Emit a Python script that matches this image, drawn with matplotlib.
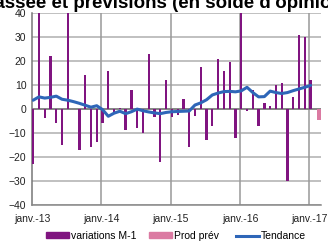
import matplotlib
matplotlib.use("Agg")
import matplotlib.pyplot as plt
from matplotlib.patches import Patch
from matplotlib.lines import Line2D
import numpy as np

plt.rcParams['font.family'] = ['Liberation Sans', 'DejaVu Sans']

title = "Production passée et prévisions (en solde d'opinion)"
title_prefix = "Production pa"

# monthly data, janv.-13 .. janv.-17
variations = [-23, 45, -4, 22, -6, -15, 45, 0, -17, 14, -16, -14,
              -6, 16, -2, 0.5, -9, 8, -8, -10, 23, -3.5, -22, 12,
              -3.5, -2.5, 4.3, -16, -3, 17.5, -13, -7, 21, 16, 19.5, -12,
              45, -1, 7.7, -7, 2.6, 1.3, 9.8, 10.6, -30, 4.8, 30.7, 29.9,
              12]
tendance = [3.6, 5.0, 4.5, 4.8, 5.3, 4.0, 3.6, 3.0, 2.3, 1.5, 0.7, 1.3,
            -0.3, -3.1, -1.8, -1.0, -2.0, -1.2, -0.1, -0.8, -1.3, -1.7, -2.0, -1.5,
            -1.2, -1.1, -1.0, -0.9, 1.6, 2.5, 3.8, 5.8, 6.6, 7.2, 7.3, 7.1,
            7.5, 9.0, 6.8, 5.0, 5.1, 7.4, 6.8, 6.4, 6.8, 7.6, 8.3, 9.0,
            9.8]
prev_month = 49
prev_value = -4.6

tick_months = [0, 12, 24, 36, 48]
tick_labels = ["janv.-13", "janv.-14", "janv.-15", "janv.-16", "janv.-17"]
y_ticks = [-40, -30, -20, -10, 0, 10, 20, 30, 40]

purple = "#801480"
pink = "#DB7AA2"
blue = "#2E66B8"

fig = plt.figure(figsize=(3.28, 2.42), dpi=100)
ax = fig.add_axes([32/328, 37.3/242, 289/328, 191.7/242])

months = np.arange(len(variations))
ax.bar(months + 0.2, variations, width=0.4, color=purple, zorder=3)
ax.bar([prev_month + 0.6], [prev_value], width=0.65, color=pink, zorder=3)
ax.plot(months + 0.2, tendance, color=blue, lw=2.2, zorder=4, solid_capstyle='round')

ax.set_xlim(0, 50)
ax.set_ylim(-40, 40)
ax.set_yticks(y_ticks)
ax.set_xticks(tick_months)
ax.set_xticklabels(tick_labels)
ax.tick_params(length=0, labelsize=7.5, colors="#222222", pad=4)
ax.tick_params(axis='x', pad=7)

for y in y_ticks:
    ax.axhline(y, color="#BBBBBB", lw=1.3, zorder=1)
for m in tick_months[1:]:
    ax.axvline(m, color="#999999", lw=1.1, zorder=1)
ax.axhline(0, color="#777777", lw=1.1, zorder=2)
for s in ["top", "right"]:
    ax.spines[s].set_visible(False)
ax.spines["left"].set_color("#777777")
ax.spines["bottom"].set_color("#888888")
ax.spines["left"].set_linewidth(1.1)
ax.spines["bottom"].set_linewidth(1.1)

# title, cut off by the top of the image
renderer = fig.canvas.get_renderer()
tmp = fig.text(0, 0, title_prefix, fontsize=13.5, fontweight='bold')
w = tmp.get_window_extent(renderer).width
tmp.remove()
fig.text((5 - w) / 328, 1 - 7.5/242, title, fontsize=13.5, fontweight='bold',
         va='baseline', ha='left', color="#000000")

# legend entries, one per position like the original
entries = [(Patch(color=purple), "variations M-1", 46),
           (Patch(color=pink), "Prod prév", 149),
           (Line2D([], [], color=blue, lw=2.2), "Tendance", 236)]
for h, lab, x in entries:
    fig.legend([h], [lab], loc='center left',
               bbox_to_anchor=(x/328, 1 - 236/242), frameon=False,
               fontsize=7.5, handlelength=2.2, handleheight=0.5,
               handletextpad=0.2, borderpad=0, borderaxespad=0)

fig.savefig("out.png", dpi=100)
